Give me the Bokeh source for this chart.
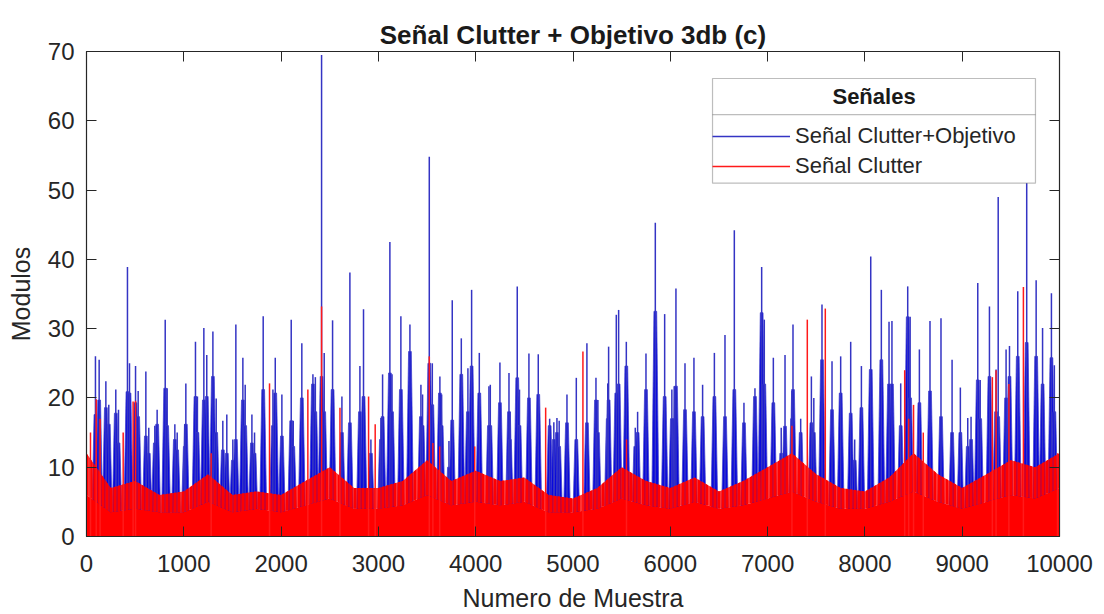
from bokeh.plotting import figure
from bokeh.models import (Range1d, LinearAxis, FixedTicker, Legend, LegendItem,
                          BoxAnnotation, Label, ColumnDataSource)
from bokeh.embed import file_html
from bokeh.resources import INLINE

# ---- data ----
# Señal Clutter+Objetivo: spike positions (sample), spike peak, dense body height
blue_pos = [92, 130, 199, 229, 301, 329, 421, 442, 504, 531, 610, 640, 702, 726, 809, 829,
            908, 932, 1010, 1021, 1120, 1140, 1206, 1236, 1299, 1333, 1401, 1442, 1504, 1535,
            1607, 1631, 1700, 1727, 1816, 1916, 1940, 2008, 2104, 2125, 2213, 2327, 2352, 2416,
            2443, 2529, 2625, 2707, 2810, 2847, 2923, 3026, 3043, 3118, 3140, 3231, 3324, 3437,
            3454, 3523, 3554, 3632, 3650, 3725, 3759, 3852, 3920, 3958, 4037, 4136, 4150, 4249,
            4342, 4352, 4427, 4450, 4547, 4643, 4760, 4803, 4835, 4858, 4938, 5034, 5143, 5236,
            5256, 5357, 5366, 5445, 5469, 5548, 5640, 5664, 5750, 5846, 5942, 6016, 6040, 6058,
            6151, 6243, 6332, 6453, 6562, 6658, 6757, 6870, 6939, 6966, 7059, 7140, 7179, 7251,
            7261, 7340, 7450, 7475, 7559, 7662, 7751, 7854, 7895, 7964, 8060, 8169, 8248, 8278,
            8368, 8440, 8465, 8560, 8669, 8782, 8896, 8981, 9057, 9091, 9160, 9185, 9280, 9348,
            9370, 9451, 9486, 9571, 9663, 9760, 9826, 9917, 9947]
blue_peak = [26.0, 25.5, 22.4, 19.0, 21.2, 18.3, 38.9, 25.0, 24.6, 21.0, 23.8, 15.7, 16.0, 18.3, 31.3, 21.4,
             16.2, 15.0, 16.2, 22.1, 28.1, 20.2, 30.1, 26.2, 29.6, 19.9, 16.7, 17.6, 14.0, 30.6,
             25.8, 21.9, 17.6, 15.0, 31.8, 21.2, 25.8, 20.5, 31.3, 16.7, 27.9, 23.4, 23.0, 69.5,
             26.5, 31.2, 20.2, 38.1, 24.6, 32.8, 14.0, 17.1, 23.4, 42.5, 23.4, 31.8, 30.6, 21.9,
             20.5, 54.8, 25.0, 23.1, 20.5, 13.8, 34.1, 28.6, 24.3, 35.6, 26.5, 21.7, 21.9, 25.1,
             23.6, 18.0, 36.1, 21.2, 26.4, 26.3, 17.0, 16.5, 17.1, 16.7, 20.5, 22.9, 27.9, 22.9,
             19.7, 22.1, 27.4, 32.0, 32.7, 28.1, 15.7, 18.0, 26.4, 45.3, 32.1, 21.2, 21.7, 35.8,
             25.0, 25.8, 21.9, 26.5, 29.1, 44.2, 19.3, 21.4, 38.9, 31.3, 25.8, 15.7, 26.2, 21.0,
             30.6, 17.0, 23.1, 20.0, 33.5, 25.3, 26.0, 28.1, 14.0, 24.6, 40.4, 35.6, 31.0, 31.1,
             22.1, 36.1, 31.7, 27.0, 31.1, 31.5, 25.5, 21.5, 17.1, 17.3, 36.6, 22.6, 33.2, 24.1,
             49.0, 27.0, 27.5, 35.4, 52.0, 37.0, 30.1, 35.1, 24.7]
blue_body = [17.6, 19.7, 18.6, 16.2, 17.8, 13.5, 20.9, 20.7, 19.3, 17.3, 14.5, 12.0, 13.5, 16.2, 21.4, 16.0,
             14.0, 12.5, 13.0, 16.2, 20.2, 15.0, 19.7, 20.2, 23.1, 15.0, 12.5, 12.0, 11.0, 14.0,
             19.7, 16.0, 13.5, 12.0, 21.2, 16.0, 20.7, 14.5, 16.7, 13.0, 20.0, 22.0, 18.0, 23.1,
             18.0, 21.2, 15.0, 16.4, 18.0, 20.2, 12.0, 14.0, 17.3, 23.6, 18.0, 21.2, 26.7, 17.3,
             16.0, 25.0, 19.0, 20.7, 16.0, 10.0, 16.8, 23.4, 18.0, 24.6, 20.7, 16.0, 16.0, 19.3,
             18.0, 14.0, 22.9, 16.0, 20.0, 20.5, 16.0, 14.0, 15.0, 13.0, 16.4, 14.0, 16.4, 19.7,
             15.0, 17.0, 19.7, 20.7, 22.0, 24.6, 13.0, 15.0, 21.2, 32.5, 20.2, 17.0, 17.0, 21.7,
             18.3, 18.0, 17.3, 20.2, 17.3, 21.2, 16.4, 20.2, 32.3, 22.0, 19.3, 12.0, 15.9, 17.0,
             21.2, 15.0, 16.4, 15.0, 25.5, 18.3, 20.7, 17.8, 11.0, 18.6, 24.1, 25.5, 22.0, 22.0,
             16.0, 31.7, 20.0, 19.3, 21.0, 17.3, 15.0, 15.0, 13.0, 14.0, 22.6, 17.0, 23.1, 18.0,
             17.3, 20.0, 23.1, 26.0, 28.0, 26.0, 22.0, 25.8, 18.0]

# Señal Clutter: isolated spikes and the dense clutter mass (top / solid level every 250 samples)
red_spike_pos = [41, 100, 140, 377, 479, 504, 1281, 1881, 2275, 2416, 2605, 2899, 2967, 3523,
                 3560, 3630, 3990, 4719, 5102, 5550, 7250, 7408, 7593, 8409, 8450, 8500, 8600,
                 9310, 9348, 9480, 9629, 9980]
red_spike_val = [15.0, 19.8, 17.0, 15.0, 19.5, 19.6, 12.0, 22.1, 21.2, 33.2, 18.6, 20.2, 16.2, 26.0,
                 13.5, 13.0, 13.0, 18.6, 26.7, 14.0, 16.0, 31.3, 32.9, 24.0, 17.0, 19.0, 15.0,
                 23.0, 24.0, 22.0, 36.0, 12.0]
red_env_pos = [0, 250, 500, 750, 1000, 1250, 1500, 1750, 2000, 2250, 2500, 2750, 3000, 3250,
               3500, 3750, 4000, 4250, 4500, 4750, 5000, 5250, 5500, 5750, 6000, 6250, 6500,
               6750, 7000, 7250, 7500, 7750, 8000, 8250, 8500, 8750, 9000, 9250, 9500, 9750, 10000]
red_env = [12, 7, 8, 6, 6.5, 9, 6, 6.5, 6, 8, 10, 7, 7, 8, 11, 8, 9.5, 8, 8.5, 6, 5.5, 7, 10, 8,
           7, 8.5, 6.5, 8, 10, 12, 9, 7, 6.5, 8.5, 12, 9, 7, 9, 11, 10, 12]
red_solid = [6, 3.5, 4, 3.5, 3.5, 5, 3.5, 4, 3.5, 4.5, 5.5, 4, 4, 4.5, 6, 4.5, 5, 4.5, 5, 3.5,
             3.5, 4, 5.5, 4.5, 4, 5, 4, 4.5, 5.5, 6.5, 5, 4, 4, 5, 6.5, 5, 4, 5, 6, 5.5, 7]

x_ticks = [0, 1000, 2000, 3000, 4000, 5000, 6000, 7000, 8000, 9000, 10000]
y_ticks = [0, 10, 20, 30, 40, 50, 60, 70]

FONT = "Liberation Sans"
TXT = "#262626"
STEM_BASE = 40   # half width of a cluster stem at the base, in samples (style)
STEM_TOP = 14    # half width at the top of the dense part

p = figure(width=1104, height=614, output_backend="svg", toolbar_location=None,
           x_range=Range1d(0, 10000), y_range=Range1d(0, 70),
           min_border_left=86, min_border_right=45, min_border_top=51, min_border_bottom=77,
           title="Señal Clutter + Objetivo 3db (c)")
p.title.align = "center"
p.title.text_font = FONT
p.title.text_font_size = "26px"
p.title.text_font_style = "bold"
p.title.text_color = "#1a1a1a"
p.title.standoff = 4
p.grid.visible = False
p.outline_line_color = TXT
p.outline_line_width = 1.2
p.background_fill_color = "white"
p.border_fill_color = "white"

# tapered stems for the dense part of every blue cluster
stem_xs = [[x - STEM_BASE, x - STEM_TOP, x + STEM_TOP, x + STEM_BASE] for x in blue_pos]
stem_ys = [[0, b, b, 0] for b in blue_body]
ssrc = ColumnDataSource(dict(xs=stem_xs, ys=stem_ys))
bsrc = ColumnDataSource(dict(x=blue_pos, peak=blue_peak, body=blue_body))
rsrc = ColumnDataSource(dict(x=red_spike_pos, v=red_spike_val))
esrc = ColumnDataSource(dict(x=red_env_pos, env=red_env, solid=red_solid))

p.patches(xs="xs", ys="ys", source=ssrc, fill_color="#0808dc", line_color="#4646cc",
          line_width=0.8)
blue_r = p.segment(x0="x", y0=0, x1="x", y1="peak", source=bsrc, line_color="#3434c4",
                   line_width=1.5)
p.varea(x="x", y1=0, y2="solid", source=esrc, fill_color="#ff0000")
p.varea(x="x", y1="solid", y2="env", source=esrc, fill_color="#ff0000", fill_alpha=0.8,
        hatch_pattern="vertical_line", hatch_color="#ff0000", hatch_alpha=1.0,
        hatch_scale=4, hatch_weight=2)
red_r = p.segment(x0="x", y0=0, x1="x", y1="v", source=rsrc, line_color="#ff1a1a",
                  line_width=1.5)

for ax in (p.xaxis[0], p.yaxis[0]):
    ax.major_label_text_font = FONT
    ax.major_label_text_font_size = "24px"
    ax.major_label_text_color = TXT
    ax.major_label_text_line_height = 1.0
    ax.axis_label_text_font = FONT
    ax.axis_label_text_font_size = "25px"
    ax.axis_label_text_font_style = "normal"
    ax.axis_label_text_color = TXT
    ax.axis_label_text_line_height = 1.0
    ax.axis_line_color = TXT
    ax.major_tick_line_color = TXT
    ax.major_tick_in = 10
    ax.major_tick_out = 0
    ax.minor_tick_line_color = None

p.xaxis[0].ticker = FixedTicker(ticks=x_ticks)
p.yaxis[0].ticker = FixedTicker(ticks=y_ticks)
p.xaxis[0].axis_label = "Numero de Muestra"
p.yaxis[0].axis_label = "Modulos"
p.xaxis[0].major_label_standoff = 18
p.yaxis[0].major_label_standoff = 12
p.xaxis[0].axis_label_standoff = 9
p.yaxis[0].axis_label_standoff = 10

top_ax = LinearAxis(ticker=FixedTicker(ticks=x_ticks),
                    major_label_overrides={t: "" for t in x_ticks})
right_ax = LinearAxis(ticker=FixedTicker(ticks=y_ticks),
                      major_label_overrides={t: "" for t in y_ticks})
for ax in (top_ax, right_ax):
    ax.axis_line_color = TXT
    ax.major_tick_line_color = TXT
    ax.major_tick_in = 10
    ax.major_tick_out = 0
    ax.minor_tick_line_color = None
    ax.major_label_standoff = 0
    ax.major_label_text_font_size = "1px"
p.add_layout(top_ax, "above")
p.add_layout(right_ax, "right")

# legend frame (MATLAB style with title row)
p.add_layout(BoxAnnotation(left=6434, right=9753, bottom=51.0, top=66.1,
                           fill_color="white", fill_alpha=1.0,
                           line_color=TXT, line_width=1.2))
p.add_layout(BoxAnnotation(left=6434, right=9753, bottom=60.9, top=60.9,
                           fill_alpha=0, line_color=TXT, line_width=1.2))
p.add_layout(Label(x=8094, y=63.5, text="Señales", text_align="center",
                   text_baseline="middle", text_font=FONT, text_font_size="22px",
                   text_font_style="bold", text_color="#1a1a1a"))

legend = Legend(items=[LegendItem(label="Señal Clutter+Objetivo", renderers=[blue_r]),
                       LegendItem(label="Señal Clutter", renderers=[red_r])],
                location=(626, 357), orientation="vertical")
legend.border_line_color = None
legend.background_fill_alpha = 0
legend.padding = 7
legend.margin = 0
legend.spacing = 4
legend.glyph_width = 78
legend.glyph_height = 20
legend.label_height = 20
legend.label_standoff = 5
legend.label_text_font = FONT
legend.label_text_font_size = "22px"
legend.label_text_color = TXT
p.add_layout(legend)

open("out.html", "w").write(file_html(p, INLINE))
